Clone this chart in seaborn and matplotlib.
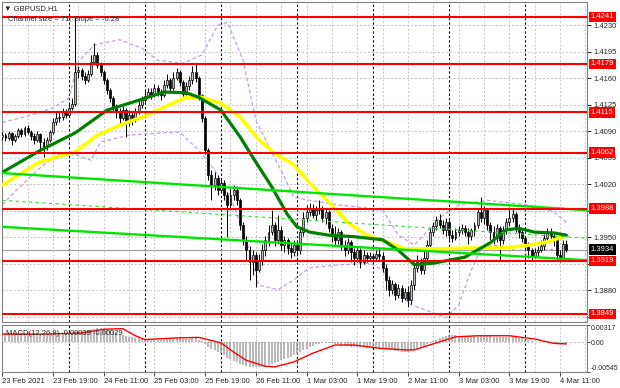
import numpy as np
import pandas as pd
import matplotlib
matplotlib.use('Agg')
import matplotlib.pyplot as plt
import seaborn as sns

# ---- GBPUSD H1 candles (open of each bar = previous close) ----
first_open = 1.4082
close = [
    1.4085, 1.4081, 1.4088, 1.4079, 1.4084, 1.4092, 1.4087, 1.4094, 1.4089, 1.4084,
    1.4079, 1.4087, 1.4076, 1.4069, 1.4079, 1.4089, 1.4102, 1.4108, 1.4109, 1.4116,
    1.4112, 1.4121, 1.4126, 1.4168, 1.4171, 1.4163, 1.4158, 1.4166, 1.4182, 1.4191,
    1.4178, 1.4168, 1.4158, 1.4145, 1.4134, 1.4121, 1.4116, 1.4108, 1.4118, 1.4102,
    1.4112, 1.4105, 1.4116, 1.4125, 1.4131, 1.4137, 1.4142, 1.4138, 1.4147, 1.4142,
    1.4138, 1.4151, 1.4158, 1.4147, 1.4160, 1.4168, 1.4155, 1.4139, 1.4150, 1.4158,
    1.4168, 1.4160, 1.4138, 1.4108, 1.4065, 1.4032, 1.4019, 1.4028, 1.4013, 1.4022,
    1.4006, 1.3993, 1.4006, 1.4013, 1.3999, 1.3966, 1.3947, 1.3933, 1.3918, 1.3927,
    1.3907, 1.3920, 1.3933, 1.3947, 1.3957, 1.3966, 1.3947, 1.3960, 1.3940, 1.3947,
    1.3936, 1.3931, 1.3940, 1.3933, 1.3957, 1.3976, 1.3984, 1.3989, 1.3980, 1.3986,
    1.3989, 1.3976, 1.3984, 1.3962, 1.3953, 1.3947, 1.3957, 1.3940, 1.3933, 1.3944,
    1.3931, 1.3923, 1.3933, 1.3918, 1.3927, 1.3923, 1.3926, 1.3923, 1.3928, 1.3926,
    1.3910, 1.3894, 1.3881, 1.3889, 1.3874, 1.3883, 1.3870, 1.3878, 1.3867, 1.3887,
    1.3910, 1.3918, 1.3907, 1.3923, 1.3940, 1.3957, 1.3965, 1.3973, 1.3966, 1.3960,
    1.3970, 1.3953, 1.3949, 1.3957, 1.3960, 1.3962, 1.3957, 1.3952, 1.3960, 1.3966,
    1.3984, 1.3976, 1.3986, 1.3966, 1.3957, 1.3949, 1.3962, 1.3947, 1.3960, 1.3970,
    1.3976, 1.3981, 1.3962, 1.3957, 1.3949, 1.3940, 1.3933, 1.3926, 1.3931, 1.3933,
    1.3939, 1.3949, 1.3957, 1.3952, 1.3947, 1.3927, 1.3923, 1.3941, 1.3934,
]
high = [
    1.4089, 1.4088, 1.4091, 1.4089, 1.4087, 1.4094, 1.4094, 1.4097, 1.4098, 1.4092,
    1.4088, 1.4091, 1.4088, 1.4081, 1.4083, 1.4092, 1.4108, 1.4116, 1.4116, 1.4121,
    1.4120, 1.4126, 1.4134, 1.4241, 1.4176, 1.4174, 1.4168, 1.4171, 1.4191, 1.4207,
    1.4195, 1.4182, 1.4171, 1.4160, 1.4147, 1.4137, 1.4126, 1.4121, 1.4124, 1.4121,
    1.4118, 1.4116, 1.4121, 1.4131, 1.4137, 1.4145, 1.4147, 1.4147, 1.4153, 1.4151,
    1.4146, 1.4158, 1.4166, 1.4160, 1.4168, 1.4174, 1.4171, 1.4158, 1.4155, 1.4163,
    1.4176, 1.4180, 1.4163, 1.4139, 1.4110, 1.4068, 1.4039, 1.4036, 1.4032, 1.4028,
    1.4026, 1.4010, 1.4015, 1.4019, 1.4018, 1.4002, 1.3970, 1.3952, 1.3939, 1.3933,
    1.3931, 1.3928, 1.3941, 1.3952, 1.3966, 1.3986, 1.3970, 1.3980, 1.3965, 1.3952,
    1.3949, 1.3943, 1.3947, 1.3944, 1.3962, 1.3984, 1.3993, 1.3995, 1.3994, 1.3992,
    1.3999, 1.3992, 1.3989, 1.3986, 1.3968, 1.3965, 1.3962, 1.3960, 1.3947, 1.3949,
    1.3947, 1.3936, 1.3939, 1.3936, 1.3933, 1.3931, 1.3931, 1.3928, 1.3933, 1.3936,
    1.3931, 1.3915, 1.3899, 1.3894, 1.3891, 1.3889, 1.3887, 1.3883, 1.3886, 1.3894,
    1.3918, 1.3927, 1.3923, 1.3933, 1.3947, 1.3962, 1.3970, 1.3978, 1.3981, 1.3973,
    1.3976, 1.3973, 1.3960, 1.3962, 1.3965, 1.3968, 1.3966, 1.3962, 1.3962, 1.3970,
    1.3989, 1.4003, 1.3992, 1.3989, 1.3970, 1.3965, 1.3968, 1.3965, 1.3965, 1.3976,
    1.3990, 1.3989, 1.3984, 1.3968, 1.3960, 1.3952, 1.3944, 1.3936, 1.3936, 1.3939,
    1.3947, 1.3955, 1.3962, 1.3962, 1.3957, 1.3949, 1.3933, 1.3947, 1.3947,
]
low = [
    1.4079, 1.4077, 1.4079, 1.4072, 1.4076, 1.4081, 1.4083, 1.4084, 1.4087, 1.4079,
    1.4073, 1.4076, 1.4065, 1.4056, 1.4065, 1.4076, 1.4087, 1.4098, 1.4102, 1.4105,
    1.4108, 1.4109, 1.4118, 1.4124, 1.4160, 1.4158, 1.4153, 1.4155, 1.4163, 1.4179,
    1.4174, 1.4163, 1.4153, 1.4139, 1.4129, 1.4116, 1.4108, 1.4098, 1.4105, 1.4083,
    1.4097, 1.4098, 1.4102, 1.4113, 1.4121, 1.4129, 1.4134, 1.4133, 1.4135, 1.4137,
    1.4131, 1.4135, 1.4147, 1.4142, 1.4145, 1.4158, 1.4150, 1.4134, 1.4137, 1.4145,
    1.4153, 1.4155, 1.4131, 1.4102, 1.4060, 1.4026, 1.3999, 1.4013, 1.4006, 1.4010,
    1.3999, 1.3951, 1.3986, 1.3999, 1.3993, 1.3960, 1.3940, 1.3920, 1.3894, 1.3900,
    1.3885, 1.3904, 1.3914, 1.3926, 1.3939, 1.3953, 1.3939, 1.3941, 1.3933, 1.3931,
    1.3928, 1.3923, 1.3926, 1.3926, 1.3928, 1.3952, 1.3970, 1.3978, 1.3976, 1.3973,
    1.3981, 1.3970, 1.3968, 1.3957, 1.3944, 1.3939, 1.3941, 1.3933, 1.3926, 1.3928,
    1.3918, 1.3914, 1.3918, 1.3910, 1.3915, 1.3918, 1.3919, 1.3918, 1.3920, 1.3920,
    1.3904, 1.3881, 1.3873, 1.3875, 1.3867, 1.3870, 1.3865, 1.3867, 1.3858, 1.3862,
    1.3881, 1.3904, 1.3902, 1.3902, 1.3918, 1.3933, 1.3952, 1.3960, 1.3962, 1.3955,
    1.3952, 1.3947, 1.3944, 1.3947, 1.3952, 1.3955, 1.3952, 1.3941, 1.3947, 1.3952,
    1.3962, 1.3970, 1.3968, 1.3960, 1.3947, 1.3941, 1.3944, 1.3920, 1.3941, 1.3955,
    1.3965, 1.3970, 1.3957, 1.3949, 1.3944, 1.3933, 1.3923, 1.3920, 1.3923, 1.3926,
    1.3931, 1.3933, 1.3944, 1.3947, 1.3939, 1.3920, 1.3918, 1.3920, 1.3931,
]

# ---- moving averages (bar index, price) ----
ma_green_idx = [0, 12, 23, 33, 46, 51, 58, 62, 69, 75, 79, 85, 90, 93, 97, 103, 111,
                120, 125, 130, 136, 146, 154, 159, 163, 168, 174, 178]
ma_green = [1.4036, 1.4065, 1.4088, 1.4118, 1.4135, 1.4142, 1.4141, 1.4135, 1.4118,
            1.4083, 1.4056, 1.4017, 1.3980, 1.3964, 1.3957, 1.3953, 1.3951, 1.3947,
            1.3933, 1.3914, 1.3916, 1.3924, 1.3943, 1.3960, 1.3962, 1.3957, 1.3956, 1.3953]
ma_yellow_idx = [0, 5, 12, 23, 30, 37, 46, 51, 58, 63, 69, 75, 81, 86, 92, 97, 103,
                 109, 115, 122, 127, 138, 146, 157, 165, 172, 177]
ma_yellow = [1.4019, 1.4032, 1.4050, 1.4063, 1.4085, 1.4098, 1.4112, 1.4122, 1.4135,
             1.4135, 1.4127, 1.4109, 1.4079, 1.4061, 1.4046, 1.4022, 1.3997, 1.3970,
             1.3953, 1.3943, 1.3935, 1.3935, 1.3936, 1.3936, 1.3939, 1.3944, 1.3951]

# ---- bands (purple dashed) ----
band_up_idx = [0, 8, 16, 21, 24, 29, 37, 44, 49, 57, 63, 68, 71, 76, 80, 85, 89, 92,
               97, 106, 115, 120, 125, 130, 133, 138, 144, 153, 166, 174, 178]
band_up = [1.4102, 1.4110, 1.4121, 1.4134, 1.4182, 1.4204, 1.4211, 1.4200, 1.4184,
           1.4180, 1.4191, 1.4230, 1.4234, 1.4184, 1.4105, 1.4062, 1.4030, 1.4003,
           1.3999, 1.3993, 1.3989, 1.3986, 1.3953, 1.3940, 1.3953, 1.3976, 1.3993,
           1.3999, 1.3993, 1.3984, 1.3970]
band_low_idx = [0, 5, 12, 17, 21, 28, 31, 40, 50, 56, 62, 67, 72, 77, 81, 87, 92, 97,
                107, 116, 120, 124, 129, 135, 140, 144, 148, 151, 155, 162, 170, 178]
band_low = [1.3993, 1.4015, 1.4042, 1.4059, 1.4062, 1.4052, 1.4076, 1.4085, 1.4088,
            1.4089, 1.4065, 1.4039, 1.4003, 1.3947, 1.3887, 1.3881, 1.3894, 1.3910,
            1.3914, 1.3916, 1.3907, 1.3881, 1.3861, 1.3852, 1.3844, 1.3861, 1.3907,
            1.3935, 1.3940, 1.3933, 1.3933, 1.3936]

# ---- channel (line ends at chart left / right) ----
channel_idx = [0, 184.5]
channel_top = [1.4035, 1.3986]
channel_mid = [1.3999, 1.3949]
channel_bot = [1.3964, 1.3920]

levels = [1.4241, 1.4179, 1.4115, 1.4062, 1.3988, 1.3919, 1.3849]
bid = 1.3934
price_ticks = [1.4230, 1.4195, 1.4160, 1.4125, 1.4090, 1.4055, 1.4020,
               1.3985, 1.3950, 1.3915, 1.3880, 1.3845]

# ---- MACD(12,26,9) ----
macd_main = [
    0.0017, 0.0017, 0.0017, 0.0016, 0.0016, 0.0016, 0.0016, 0.0016, 0.0015, 0.0015,
    0.0015, 0.0014, 0.0014, 0.0013, 0.0013, 0.0013, 0.0014, 0.0014, 0.0015, 0.0015,
    0.0015, 0.0016, 0.0016, 0.0019, 0.0020, 0.0021, 0.0021, 0.0022, 0.0024, 0.0025,
    0.0026, 0.0026, 0.0025, 0.0024, 0.0023, 0.0021, 0.0019, 0.0016, 0.0014, 0.0012,
    0.0010, 0.0009, 0.0008, 0.0007, 0.0006, 0.0005, 0.0005, 0.0005, 0.0005, 0.0005,
    0.0005, 0.0005, 0.0006, 0.0006, 0.0006, 0.0007, 0.0007, 0.0006, 0.0006, 0.0006,
    0.0007, 0.0007, 0.0005, 0.0002, -0.0003, -0.0008, -0.0012, -0.0014, -0.0017, -0.0020,
    -0.0024, -0.0028, -0.0031, -0.0034, -0.0037, -0.0040, -0.0042, -0.0044, -0.0045, -0.0046,
    -0.0046, -0.0046, -0.0045, -0.0044, -0.0042, -0.0040, -0.0038, -0.0036, -0.0033, -0.0031,
    -0.0029, -0.0027, -0.0024, -0.0021, -0.0018, -0.0015, -0.0012, -0.0009, -0.0006, -0.0004,
    -0.0003, -0.0002, -0.0001, -0.0001, -0.0002, -0.0003, -0.0004, -0.0005, -0.0006, -0.0007,
    -0.0008, -0.0008, -0.0009, -0.0009, -0.0009, -0.0010, -0.0010, -0.0010, -0.0011, -0.0011,
    -0.0012, -0.0013, -0.0014, -0.0015, -0.0016, -0.0016, -0.0017, -0.0017, -0.0017, -0.0016,
    -0.0014, -0.0012, -0.0010, -0.0007, -0.0004, -0.0001, 0.0002, 0.0005, 0.0008, 0.0010,
    0.0012, 0.0013, 0.0013, 0.0013, 0.0012, 0.0012, 0.0011, 0.0011, 0.0011, 0.0011,
    0.0012, 0.0012, 0.0013, 0.0012, 0.0011, 0.0010, 0.0010, 0.0009, 0.0009, 0.0009,
    0.0010, 0.0010, 0.0009, 0.0008, 0.0007, 0.0005, 0.0004, 0.0002, 0.0001, 0.0000,
    0.0000, 0.0001, 0.0001, 0.0000, -0.0001, -0.0003, -0.0004, -0.0004, -0.0004,
]
signal_idx = [0, 13, 25, 32, 38, 42, 45, 55, 62, 69, 73, 77, 83, 86, 92, 98, 105, 111,
              119, 127, 130, 137, 143, 150, 160, 168, 174, 178]
signal = [0.0015, 0.0015, 0.0017, 0.0024, 0.0025, 0.0012, 0.0005, 0.0008, 0.0009,
          -0.0001, -0.0018, -0.0033, -0.0044, -0.0045, -0.0036, -0.0020, -0.0005,
          -0.0005, -0.0011, -0.0014, -0.0014, -0.0001, 0.0010, 0.0012, 0.0012, 0.0006,
          -0.0002, -0.0003]
macd_ticks = [0.00317, 0.0, -0.00545]
macd_labels = ['0.00317', '0.00', '-0.00545']

time_labels = ['23 Feb 2021', '23 Feb 19:00', '24 Feb 11:00', '25 Feb 03:00',
               '25 Feb 19:00', '26 Feb 11:00', '1 Mar 03:00', '1 Mar 19:00',
               '2 Mar 11:00', '3 Mar 03:00', '3 Mar 19:00', '4 Mar 11:00']
day_breaks = [21, 45, 69, 93, 117, 141, 165]

# ---- style ----
sns.set_style('white')
plt.rcParams['font.family'] = ['Liberation Sans', 'DejaVu Sans']
FS = 5.5

df = pd.DataFrame({'close': close, 'high': high, 'low': low})
df['open'] = df['close'].shift(1).fillna(first_open)
idx = np.arange(len(df))

fig = plt.figure(figsize=(6.2, 3.88), dpi=100)
ax = fig.add_axes([2 / 620, 66 / 388, 585 / 620, 320 / 388])
mx = fig.add_axes([2 / 620, 16 / 388, 585 / 620, 47 / 388])

xlim = (-0.1, 184.5)
for a in (ax, mx):
    a.set_xlim(*xlim)
    for k in range(0, 185, 8):
        a.axvline(k, color='#c4c4c4', ls=(0, (2, 2)), lw=0.7, zorder=1)
    for d in day_breaks:
        a.axvline(d, color='black', ls=(0, (2, 2)), lw=0.8, zorder=2)
    for s in a.spines.values():
        s.set_color('#808080')
        s.set_linewidth(0.8)

ax.set_ylim(1.38384, 1.42608)
for t in price_ticks:
    ax.axhline(t, color='#a8d4e4' if abs(t - 1.4055) < 1e-6 else '#c4c4c4',
               ls=(0, (2, 2)), lw=0.7, zorder=1)

# bands and channel
sns.lineplot(x=band_up_idx, y=band_up, ax=ax, color='#c69ce6', lw=0.9,
             ls=(0, (3, 2)), sort=False, zorder=2)
sns.lineplot(x=band_low_idx, y=band_low, ax=ax, color='#c69ce6', lw=0.9,
             ls=(0, (3, 2)), sort=False, zorder=2)
sns.lineplot(x=channel_idx, y=channel_top, ax=ax, color='#00e600', lw=1.7, sort=False, zorder=6)
sns.lineplot(x=channel_idx, y=channel_bot, ax=ax, color='#00e600', lw=1.7, sort=False, zorder=6)
sns.lineplot(x=channel_idx, y=channel_mid, ax=ax, color='#33dd33', lw=0.8,
             ls=(0, (3, 3)), sort=False, zorder=6)

ax.axhline(bid, color='#a0a0a0', lw=0.8, zorder=2)

# candles
ax.vlines(idx, df['low'], df['high'], color='black', lw=0.7, zorder=3)
body = (df['close'] - df['open']).abs().clip(lower=0.00006)
bottom = df[['open', 'close']].min(axis=1)
up = (df['close'] >= df['open']).values
ax.bar(idx[up], body[up], bottom=bottom[up], width=0.62, color='#bdbdbd',
       edgecolor='black', lw=0.5, zorder=4)
ax.bar(idx[~up], body[~up], bottom=bottom[~up], width=0.62, color='black',
       edgecolor='black', lw=0.5, zorder=4)

# moving averages
sns.lineplot(x=ma_yellow_idx, y=ma_yellow, ax=ax, color='#ffff00', lw=2.6, sort=False, zorder=5)
sns.lineplot(x=ma_green_idx, y=ma_green, ax=ax, color='#008000', lw=2.3, sort=False, zorder=5)

# levels with price boxes
ytr = ax.get_yaxis_transform()
for lv in levels:
    ax.axhline(lv, color='#ff0000', lw=1.5, zorder=7)
    ax.text(1.006, lv, f'{lv:.4f}', transform=ytr, ha='left', va='center', fontsize=FS,
            color='white', bbox=dict(boxstyle='square,pad=0.22', fc='#ff0000', ec='none'),
            zorder=10, clip_on=False)
ax.text(1.006, bid, f'{bid:.4f}', transform=ytr, ha='left', va='center', fontsize=FS,
        color='white', bbox=dict(boxstyle='square,pad=0.22', fc='black', ec='none'),
        zorder=10, clip_on=False)

# tick labels hidden under a level box are left blank, as on the terminal
ax.yaxis.tick_right()
ax.set_yticks(price_ticks)
ax.set_yticklabels(['' if min(abs(t - lv) for lv in levels) < 0.0005 else f'{t:.4f}'
                    for t in price_ticks])
ax.tick_params(axis='y', labelsize=FS, length=3, width=0.6, pad=1.5, color='black', right=True)
ax.set_xticks([])
ax.set_xlabel('')
ax.set_ylabel('')

ax.text(0.003, 0.99, '\u25bc GBPUSD,H1', transform=ax.transAxes, fontsize=FS,
        va='top', ha='left', zorder=11)
ax.text(0.01, 0.957, 'Channel size = 71, Slope = -0.28', transform=ax.transAxes,
        fontsize=FS, va='top', ha='left', zorder=11)

# MACD panel
mx.set_ylim(-0.00545, 0.00317)
mx.axhline(0, color='#c4c4c4', ls=(0, (2, 2)), lw=0.7, zorder=1)
mx.vlines(idx, 0, macd_main, color='#a4a4a4', lw=1.1, zorder=3)
sns.lineplot(x=signal_idx, y=signal, ax=mx, color='#ff0000', lw=1.0, sort=False, zorder=4)
mx.text(0.007, 0.9, 'MACD(12,26,9) -0.00039 -0.00029', transform=mx.transAxes,
        fontsize=FS, va='top', ha='left', zorder=6)

mx.yaxis.tick_right()
mx.set_yticks(macd_ticks)
mx.set_yticklabels(macd_labels)
mx.tick_params(axis='y', labelsize=5.0, length=2, width=0.6, pad=1, right=True)
ylbls = mx.get_yticklabels()
ylbls[0].set_va('top')
ylbls[2].set_va('bottom')

mx.set_xticks(range(0, 177, 16))
mx.set_xticklabels(time_labels)
for lbl in mx.get_xticklabels():
    lbl.set_ha('left')
mx.tick_params(axis='x', labelsize=FS, length=3, width=0.6, pad=1.5, bottom=True)
mx.set_xlabel('')
mx.set_ylabel('')

fig.savefig('out.png', dpi=100)
